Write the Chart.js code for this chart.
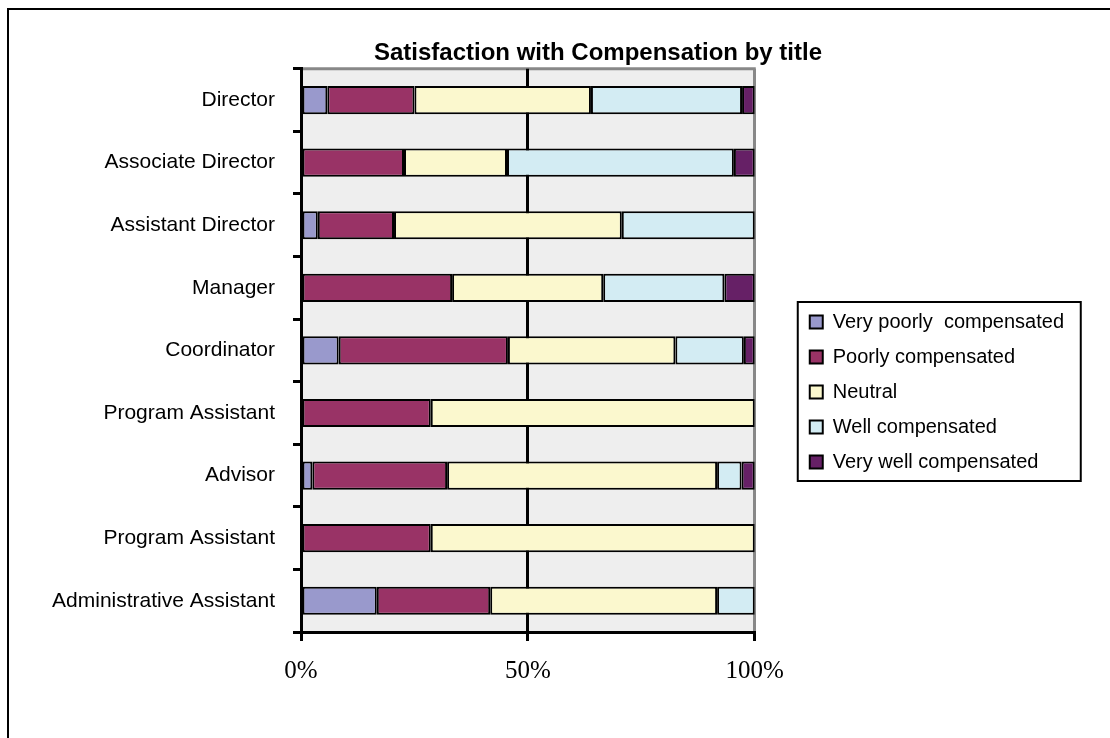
<!DOCTYPE html>
<html>
<head>
<meta charset="utf-8">
<script src="https://cdn.jsdelivr.net/npm/chart.js@4.4.0/dist/chart.umd.min.js"></script>
<style>
    html, body { margin: 0; padding: 0; background: #fff; overflow: hidden; }
    #frame { position: absolute; left: 7px; top: 8px; width: 1200px; height: 800px; border: 2px solid #000; }
    #wrap { position: absolute; left: 0; top: 0; width: 1110px; height: 738px; }
</style>
</head>
<body>
<div id="frame"></div>
<div id="wrap"><canvas id="compGraf" width="1110" height="738"></canvas></div>
<script>
var titles = ['Director', 'Associate Director', 'Assistant Director', 'Manager', 'Coordinator',
    'Program Assistant', 'Advisor', 'Program Assistant', 'Administrative Assistant'];

// percent of answers per title
var veryPoorly = [5.8, 0, 3.7, 0, 8.3, 0, 2.5, 0, 16.7];
var poorly     = [19.2, 22.7, 16.8, 33.3, 37.3, 28.6, 29.7, 28.6, 25.0];
var neutral    = [38.9, 22.7, 50.2, 33.3, 36.9, 71.4, 59.5, 71.4, 50.0];
var well       = [33.3, 50.0, 29.3, 26.7, 15.1, 0, 5.4, 0, 8.3];
var veryWell   = [2.8, 4.6, 0, 6.7, 2.4, 0, 2.9, 0, 0];

var seriesNames = ['Very poorly  compensated', 'Poorly compensated', 'Neutral', 'Well compensated', 'Very well compensated'];
var seriesColors = ['#9999cc', '#993366', '#fbf8ce', '#d3ecf3', '#662066'];
var xTicks = [0, 50, 100];

var sansFont = '"Liberation Sans", Arial, sans-serif';
var serifFont = '"Liberation Serif", "Times New Roman", serif';

var seriesData = [veryPoorly, poorly, neutral, well, veryWell];
var datasets = [];
for (var i = 0; i < seriesData.length; i++) {
    datasets.push({
        label: seriesNames[i],
        data: seriesData[i],
        backgroundColor: seriesColors[i],
        borderColor: '#000',
        borderWidth: 2,
        borderSkipped: false,
        barPercentage: 0.45,
        categoryPercentage: 1
    });
}

// grey plot area, grey top edge, legend box and moving title / legend into place
var plotDecor = {
    id: 'plotDecor',
    afterLayout: function(chart) {
        var tb = chart.titleBlock;
        var half = (tb.right - tb.left) / 2;
        tb.left = 598 - half;
        tb.right = 598 + half;

        var lg = chart.legend;
        var dx = chart.chartArea.right + 40 - lg.left;
        lg.left += dx;
        lg.right += dx;
        var dy = 392 - (lg.top + lg.bottom) / 2;
        lg.top += dy;
        lg.bottom += dy;
    },
    beforeDraw: function(chart) {
        var a = chart.chartArea, ctx = chart.ctx;
        ctx.save();
        ctx.fillStyle = '#eeeeee';
        ctx.fillRect(a.left, a.top, a.right - a.left, a.bottom - a.top);
        ctx.strokeStyle = '#888888';
        ctx.lineWidth = 3;
        ctx.beginPath();
        ctx.moveTo(a.left, a.top);
        ctx.lineTo(a.right + 1, a.top);
        ctx.stroke();
        ctx.restore();
    },
    afterDraw: function(chart) {
        var hb = chart.legend.legendHitBoxes;
        if (!hb || !hb.length) return;
        var first = hb[0], last = hb[hb.length - 1];
        var x0 = first.left - 12;
        var y0 = first.top + first.height / 2 - 20;
        var y1 = last.top + last.height / 2 + 19;
        var ctx = chart.ctx;
        ctx.save();
        ctx.strokeStyle = '#000';
        ctx.lineWidth = 2;
        ctx.strokeRect(x0, y0, 283, y1 - y0);
        ctx.restore();
    }
};

var ctx = document.getElementById('compGraf').getContext('2d');
var compGraf = new Chart(ctx, {
    type: 'bar',
    data: {
        labels: titles,
        datasets: datasets
    },
    options: {
        indexAxis: 'y',
        responsive: false,
        animation: false,
        layout: { padding: { left: 45, right: 76, top: 0, bottom: 23 } },
        plugins: {
            title: {
                display: true,
                text: 'Satisfaction with Compensation by title',
                color: '#000',
                font: { family: sansFont, size: 24, weight: 'bold' },
                padding: { top: 39, bottom: 1 }
            },
            legend: {
                position: 'right',
                maxWidth: 400,
                labels: {
                    boxWidth: 13,
                    boxHeight: 13,
                    padding: 15,
                    color: '#000',
                    font: { family: sansFont, size: 20 }
                }
            },
            tooltip: { enabled: false }
        },
        scales: {
            x: {
                stacked: true,
                min: 0,
                max: 100,
                afterBuildTicks: function(scale) {
                    scale.ticks = xTicks.map(function(v) { return { value: v }; });
                },
                afterFit: function(scale) { scale.height = 83; },
                ticks: {
                    callback: function(v) { return v + '%'; },
                    color: '#000',
                    font: { family: serifFont, size: 25 },
                    padding: 15,
                    maxRotation: 0
                },
                grid: {
                    color: function(c) { return c.tick && c.tick.value === 100 ? '#888888' : '#000'; },
                    tickColor: '#000',
                    lineWidth: 3,
                    tickLength: 9
                },
                border: { color: '#000', width: 3 }
            },
            y: {
                stacked: true,
                afterFit: function(scale) { scale.width = 256; },
                ticks: {
                    color: '#000',
                    font: { family: sansFont, size: 21 },
                    padding: 18
                },
                grid: {
                    drawOnChartArea: false,
                    color: '#000',
                    lineWidth: 3,
                    tickLength: 8
                },
                border: { color: '#000', width: 3 }
            }
        }
    },
    plugins: [plotDecor]
});
</script>
</body>
</html>
